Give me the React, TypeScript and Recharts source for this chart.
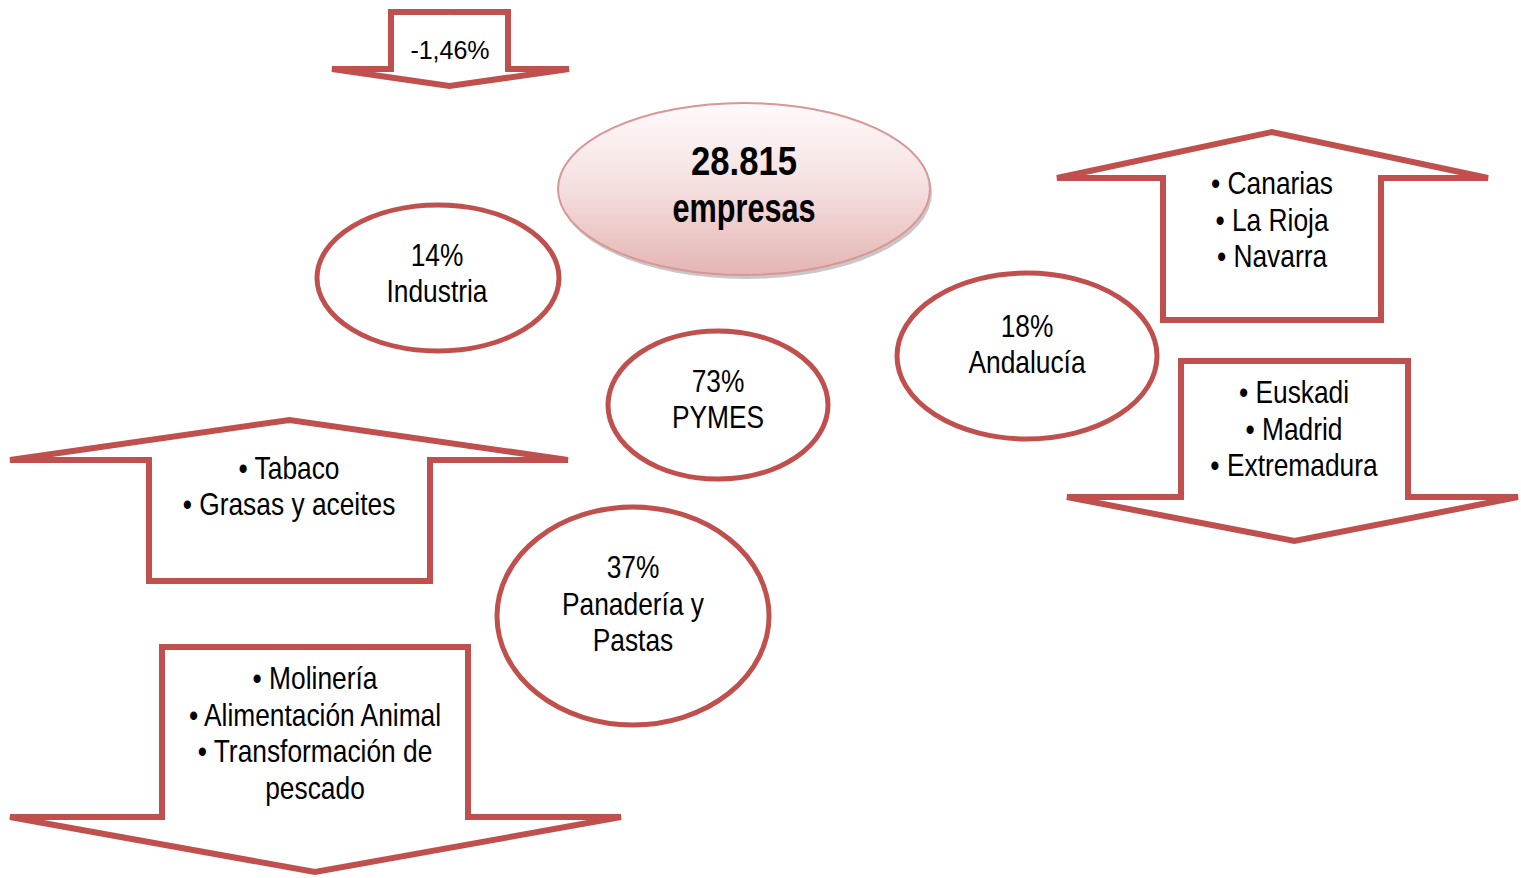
import React from 'react';
import { ScatterChart, Scatter, XAxis, YAxis } from 'recharts';

const WIDTH = 1521;
const HEIGHT = 878;
const RED = '#c0504d';
// no narrow face is installed: Liberation Sans squeezed horizontally stands in for Arial Narrow
const FONT = "'Liberation Sans', Arial, sans-serif";
const NARROW_SCALE = 0.85;

// block arrows (page units): shaft sides, shaft base, neck where the head starts, head wings, tip
const arrowNames = ['caida', 'suben-ccaa', 'suben-sector', 'bajan-sector', 'bajan-ccaa'];
const arrowShaftLeft = [391, 1163, 149, 162, 1181];
const arrowShaftRight = [508, 1381, 430, 468, 1408];
const arrowBase = [12, 320, 581, 647, 361];
const arrowNeck = [69, 178, 460, 817, 497];
const arrowHeadLeft = [332, 1057, 10, 10, 1067];
const arrowHeadRight = [569, 1488, 568, 621, 1518];
const arrowTip = [86, 132, 420, 872, 541];

// ellipses
const bubbleNames = ['total', 'industria', 'pymes', 'andalucia', 'panaderia'];
const bubbleX = [744, 438, 718, 1027, 633];
const bubbleY = [189, 278, 405, 356, 616];
const bubbleRx = [186, 121, 110, 130, 136];
const bubbleRy = [86, 73, 74, 83, 109];

// text blocks
const labelNames = ['caida', 'total', 'industria', 'pymes', 'andalucia', 'panaderia', 'suben-ccaa', 'suben-sector', 'bajan-sector', 'bajan-ccaa'];
const labelX = [450, 744, 437, 718, 1027, 633, 1272, 289, 315, 1294];
const labelY = [50, 184, 273, 399, 344, 604, 220, 486, 733, 429];
const labelLines = [
  ['-1,46%'],
  ['28.815', 'empresas'],
  ['14%', 'Industria'],
  ['73%', 'PYMES'],
  ['18%', 'Andalucía'],
  ['37%', 'Panadería y', 'Pastas'],
  ['• Canarias', '• La Rioja', '• Navarra'],
  ['• Tabaco', '• Grasas y aceites'],
  ['• Molinería', '• Alimentación Animal', '• Transformación de', 'pescado'],
  ['• Euskadi', '• Madrid', '• Extremadura'],
];

// the axes map 1 data unit to 1 pixel, so radii can be used directly
function arrowPoints(i: number) {
  const mid = (arrowShaftLeft[i] + arrowShaftRight[i]) / 2;
  return [
    { x: mid, y: arrowBase[i] },
    { x: arrowShaftRight[i], y: arrowBase[i] },
    { x: arrowShaftRight[i], y: arrowNeck[i] },
    { x: arrowHeadRight[i], y: arrowNeck[i] },
    { x: mid, y: arrowTip[i] },
    { x: arrowHeadLeft[i], y: arrowNeck[i] },
    { x: arrowShaftLeft[i], y: arrowNeck[i] },
    { x: arrowShaftLeft[i], y: arrowBase[i] },
    { x: mid, y: arrowBase[i] },
  ];
}

const bubbles = bubbleNames.map((name, i) => ({
  name,
  x: bubbleX[i],
  y: bubbleY[i],
  rx: bubbleRx[i],
  ry: bubbleRy[i],
}));

const labels = labelNames.map((name, i) => ({
  name,
  x: labelX[i],
  y: labelY[i],
  lines: labelLines[i],
}));

const Hidden = () => <g />;

const Bubble = (props: any) => {
  const { cx, cy, payload } = props;
  if (payload.name === 'total') {
    return (
      <g>
        <defs>
          <linearGradient id="totalFill" x1="0" y1="0" x2="0" y2="1">
            <stop offset="0%" stopColor="#fefafa" />
            <stop offset="45%" stopColor="#f6e2e2" />
            <stop offset="100%" stopColor="#e4b5b4" />
          </linearGradient>
        </defs>
        <ellipse cx={cx + 2} cy={cy + 4} rx={payload.rx} ry={payload.ry} fill="#9a9a9a" opacity={0.55} />
        <ellipse cx={cx} cy={cy} rx={payload.rx} ry={payload.ry} fill="url(#totalFill)" stroke="#d99694" strokeWidth={2} />
      </g>
    );
  }
  return (
    <ellipse cx={cx} cy={cy} rx={payload.rx} ry={payload.ry} fill="#fff" stroke={RED} strokeWidth={5} />
  );
};

const Label = (props: any) => {
  const { cx, cy, payload } = props;
  const big = payload.name === 'total';
  const wide = payload.name === 'caida';
  const lh = big ? 47 : 36.5;
  const n = payload.lines.length;
  return (
    <g>
      {payload.lines.map((line: string, i: number) => {
        const ly = cy + (i - (n - 1) / 2) * lh;
        if (big) {
          // the heading keeps its own widths: wide digits, condensed letters
          return (
            <text
              key={i}
              x={cx}
              y={ly}
              textAnchor="middle"
              dominantBaseline="central"
              fill="#000"
              fontFamily={FONT}
              fontSize={41}
              fontWeight="bold"
              textLength={i === 0 ? 106 : 143}
              lengthAdjust="spacingAndGlyphs"
            >
              {line}
            </text>
          );
        }
        return (
          <text
            key={i}
            x={0}
            y={0}
            transform={`translate(${cx} ${ly}) scale(${wide ? 1 : NARROW_SCALE} 1)`}
            textAnchor="middle"
            dominantBaseline="central"
            fill="#000"
            fontFamily={FONT}
            fontSize={wide ? 25 : 31}
          >
            {line}
          </text>
        );
      })}
    </g>
  );
};

export default function App() {
  return (
    <div style={{ position: 'absolute', left: 0, top: 0, width: WIDTH, height: HEIGHT, background: '#fff' }}>
      <ScatterChart width={WIDTH} height={HEIGHT} margin={{ top: 0, right: 0, bottom: 0, left: 0 }}>
        <XAxis type="number" dataKey="x" domain={[0, WIDTH]} hide />
        <YAxis type="number" dataKey="y" domain={[0, HEIGHT]} reversed hide />
        {arrowNames.map((name, i) => (
          <Scatter
            key={name}
            name={name}
            data={arrowPoints(i)}
            fill={RED}
            line={{ stroke: RED, strokeWidth: 6 }}
            lineType="joint"
            shape={Hidden}
            isAnimationActive={false}
          />
        ))}
        <Scatter name="bubbles" data={bubbles} shape={Bubble} isAnimationActive={false} />
        <Scatter name="labels" data={labels} shape={Label} isAnimationActive={false} />
      </ScatterChart>
    </div>
  );
}
